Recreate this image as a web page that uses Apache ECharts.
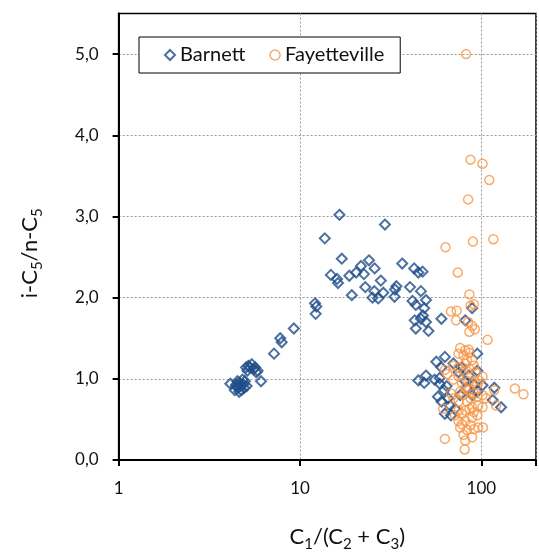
<!DOCTYPE html>
<html>
<head>
<meta charset="utf-8">
<script src="https://cdn.jsdelivr.net/npm/echarts@6/dist/echarts.min.js"></script>
<style>
  html, body { margin: 0; padding: 0; background: #ffffff; }
  #main { width: 539px; height: 557px; }
</style>
</head>
<body>
<div id="main"></div>
<script>
  // C1/(C2+C3) and i-C5/n-C5
  var barnettX = [4.13, 4.43, 4.56, 4.66, 4.76, 4.62, 4.87, 4.97, 4.82, 4.52, 5.08, 4.37, 4.69, 4.92, 4.46,
    5.04, 5.19, 5.42, 5.13, 5.66, 5.84, 5.74, 5.55, 6.1, 5.28,
    7.19, 7.78, 7.93, 9.25, 12.1, 12.3, 12.2, 13.7, 16.5, 17.0, 14.8, 16.0, 16.2, 18.7, 19.3,
    20.4, 21.7, 22.5, 22.9, 24.0, 25.8, 25.7, 25.1, 27.0, 27.9, 28.8, 29.4, 33.2, 33.4, 34.0,
    36.6, 40.4, 41.7, 42.6, 44.9, 47.4, 46.4, 43.5, 48.4, 49.5, 42.9, 46.4, 47.6, 49.5, 43.5,
    51.1, 60.2, 81.5, 88.9, 44.9, 49.5, 48.4,
    56.4, 62.9, 60.2, 70.1, 74.8, 94.9, 55.2, 58.9, 57.6, 60.2, 62.3, 64.3, 65.6, 62.9, 67.1,
    71.6, 76.4, 81.5, 85.2, 90.9, 94.9, 88.9, 101.4, 117.8, 115.4, 128.5, 78.1, 83.3, 68.0,
    58.9, 94.9];
  var barnettY = [0.94, 0.91, 0.89, 0.95, 0.86, 0.84, 0.93, 0.97, 0.99, 0.97, 0.91, 0.86, 0.91, 0.89, 0.93,
    1.14, 1.16, 1.18, 1.10, 1.14, 1.10, 1.08, 1.12, 0.97, 1.14,
    1.31, 1.50, 1.45, 1.62, 1.93, 1.89, 1.80, 2.73, 3.02, 2.48, 2.28, 2.23, 2.18, 2.27, 2.03,
    2.31, 2.39, 2.29, 2.13, 2.46, 2.36, 2.08, 2.00, 1.99, 2.21, 2.06, 2.90, 2.01, 2.10, 2.14,
    2.42, 2.13, 1.96, 2.36, 2.31, 2.32, 2.08, 1.91, 1.87, 1.97, 1.72, 1.74, 1.78, 1.70, 1.62,
    1.59, 1.74, 1.72, 1.87, 0.98, 1.04, 0.95,
    1.21, 1.27, 1.14, 1.19, 1.08, 1.31, 0.99, 0.94, 0.78, 0.72, 0.86, 0.91, 0.76, 0.57, 0.67,
    0.63, 0.80, 0.97, 1.04, 0.93, 1.10, 0.80, 0.92, 0.89, 0.74, 0.65, 1.14, 0.89, 0.55,
    1.01, 0.84];

  var fayettevilleX = [82.3, 87.1, 101.4, 110.5, 84.5, 63.4, 89.8, 116.4, 74.1, 85.9, 87.1, 90.9,
    68.0, 73.1, 72.5, 84.5, 88.9, 92.1, 85.9, 108.1, 76.4, 85.2, 74.8, 79.7, 88.9, 81.5,
    62.9, 64.8, 70.1, 74.8, 79.7, 85.9, 92.9, 101.4, 78.1, 84.5, 90.9, 94.9, 68.0, 76.4,
    81.5, 90.9, 94.9, 105.9, 117.8, 153, 170.6, 120.5, 101.4, 61.6, 71.6, 78.1, 85.9, 90.9,
    94.9, 74.8, 81.5, 88.9, 76.4, 83.3, 90.9, 96.0, 102.0, 79.7, 88.9, 81.5, 62.9, 80.9,
    70.1, 74.8, 83.3, 87.1, 79.7, 85.2, 74.8, 70.1, 83.3, 85.9, 81.5, 90.9, 97.3, 101.4,
    96.0, 88.9, 81.5, 74.8, 78.1, 87.1];
  var fayettevilleY = [5.00, 3.70, 3.65, 3.45, 3.21, 2.62, 2.69, 2.72, 2.31, 2.04, 1.90, 1.92,
    1.83, 1.84, 1.72, 1.70, 1.65, 1.61, 1.58, 1.48, 1.38, 1.36, 1.31, 1.29, 1.23, 1.19,
    1.11, 1.06, 0.99, 1.03, 1.09, 1.12, 1.08, 1.03, 0.95, 0.97, 0.97, 0.93, 0.82, 0.84,
    0.89, 0.82, 0.78, 0.76, 0.86, 0.88, 0.81, 0.67, 0.65, 0.63, 0.55, 0.57, 0.63, 0.59,
    0.55, 0.48, 0.48, 0.52, 0.40, 0.37, 0.38, 0.40, 0.40, 0.31, 0.28, 0.24, 0.26, 0.13,
    0.76, 0.72, 0.72, 0.76, 0.80, 0.86, 1.14, 1.16, 1.23, 1.32, 1.35, 1.16, 0.98, 0.80,
    0.67, 0.65, 0.61, 0.61, 0.44, 0.43];

  var seriesNames = ['Barnett', 'Fayetteville'];
  var yTicks = [0, 1, 2, 3, 4, 5];

  var blue = '#1F4E8A';
  var orange = '#F79646';
  var font = 'Lato';

  function zip(xs, ys) {
    var out = [];
    for (var i = 0; i < xs.length; i++) out.push([xs[i], ys[i]]);
    return out;
  }

  var myChart = echarts.init(document.getElementById('main'));
  var option = {
    animation: false,
    backgroundColor: '#ffffff',
    textStyle: {fontFamily: font},
    grid: {
      left: 118.6, right: 1, top: 13.5, bottom: 85.3,
      show: true, borderColor: '#000', borderWidth: 1.5, backgroundColor: 'transparent'
    },
    legend: {
      left: 139, top: 37,
      orient: 'horizontal',
      backgroundColor: '#fff',
      borderColor: '#000',
      borderWidth: 1,
      padding: [8, 16, 8, 25],
      itemWidth: 10,
      itemHeight: 10,
      itemGap: 24,
      textStyle: {fontFamily: font, fontSize: 20, color: '#111', lineHeight: 20},
      data: [
        {name: seriesNames[0], icon: 'diamond', itemStyle: {color: 'transparent', borderColor: blue, borderWidth: 2}},
        {name: seriesNames[1], icon: 'circle', itemStyle: {color: 'transparent', borderColor: orange, borderWidth: 1.5}}
      ]
    },
    xAxis: {
      type: 'log',
      logBase: 10,
      min: 1,
      max: 200,
      name: '{n|C}{s|1}{n|/(C}{s|2}{n| + C}{s|3}{n|)}',
      nameLocation: 'middle',
      nameGap: 62,
      nameTextStyle: {
        padding: [0, 0, 0, 40],
        rich: {
          n: {fontFamily: font, fontSize: 22, color: '#111', lineHeight: 26, verticalAlign: 'bottom'},
          s: {fontFamily: font, fontSize: 15, color: '#111', lineHeight: 20, verticalAlign: 'bottom', padding: [0, 0, -4, 0]}
        }
      },
      axisLine: {show: true, lineStyle: {color: '#000', width: 2}},
      axisTick: {show: true, inside: false, length: 6, lineStyle: {color: '#000', width: 2}},
      axisLabel: {
        fontFamily: font, fontSize: 17, color: '#111', margin: 20,
        formatter: function (v) {
          return [1, 10, 100].indexOf(Math.round(v)) >= 0 ? String(Math.round(v)) : '';
        }
      },
      splitLine: {show: true, lineStyle: {color: '#999', width: 1, type: [2, 2]}}
    },
    yAxis: {
      type: 'value',
      min: 0,
      max: 5.5,
      interval: 1,
      name: '{n|i-C}{s|5}{n|/n-C}{s|5}',
      nameLocation: 'middle',
      nameRotate: 90,
      nameGap: 78,
      nameTextStyle: {
        padding: [0, 33, 0, 0],
        rich: {
          n: {fontFamily: font, fontSize: 22, color: '#111', lineHeight: 26, verticalAlign: 'bottom'},
          s: {fontFamily: font, fontSize: 15, color: '#111', lineHeight: 20, verticalAlign: 'bottom', padding: [0, 0, -4, 0]}
        }
      },
      axisLine: {show: true, lineStyle: {color: '#000', width: 2}},
      axisTick: {show: true, inside: false, length: 6, lineStyle: {color: '#000', width: 2}, customValues: yTicks},
      axisLabel: {
        fontFamily: font, fontSize: 17, color: '#111', margin: 20,
        customValues: yTicks,
        formatter: function (v) { return v.toFixed(1).replace('.', ','); }
      },
      splitLine: {show: true, lineStyle: {color: '#999', width: 1, type: [2, 2]}}
    },
    series: [
      {
        name: seriesNames[0],
        type: 'scatter',
        symbol: 'diamond',
        symbolSize: 10,
        itemStyle: {color: 'transparent', borderColor: blue, borderWidth: 2},
        data: zip(barnettX, barnettY)
      },
      {
        name: seriesNames[1],
        type: 'scatter',
        symbol: 'circle',
        symbolSize: 9,
        itemStyle: {color: 'transparent', borderColor: orange, borderWidth: 1.5},
        data: zip(fayettevilleX, fayettevilleY)
      }
    ]
  };
  myChart.setOption(option);
</script>
</body>
</html>
